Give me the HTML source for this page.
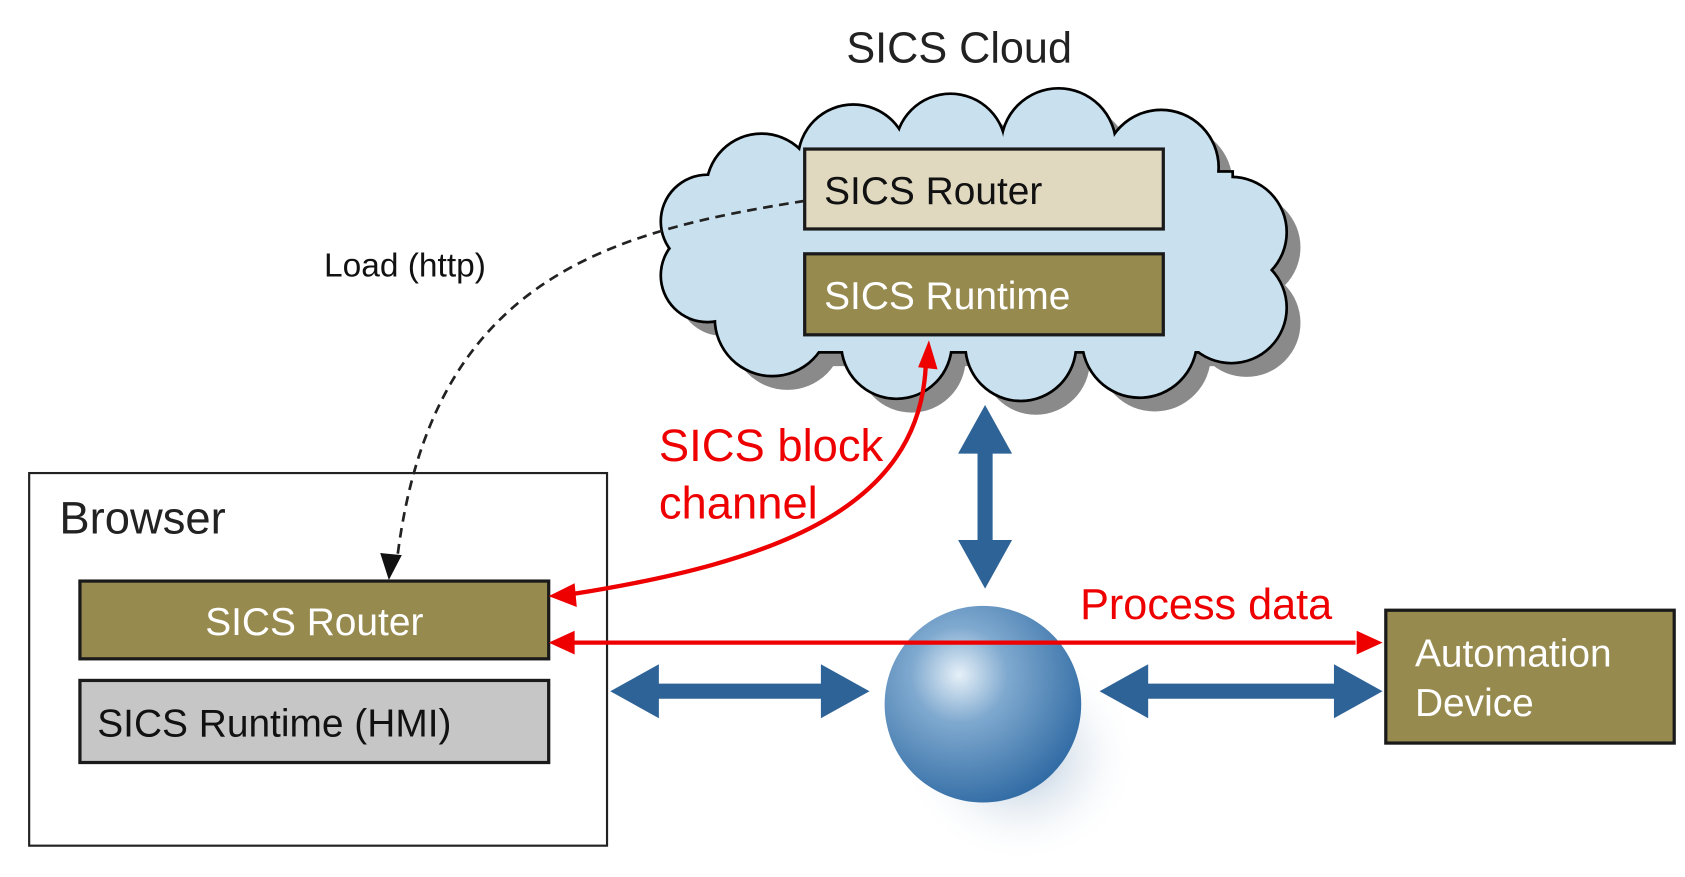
<!DOCTYPE html>
<html><head><meta charset="utf-8"><style>
html,body{margin:0;padding:0;background:#fff;}
svg{display:block;}
text{font-family:"Liberation Sans",sans-serif;}
</style></head><body>
<svg width="1685" height="877" viewBox="0 0 1560 812" preserveAspectRatio="none" xmlns="http://www.w3.org/2000/svg">
<defs>
<radialGradient id="g" cx="0.38" cy="0.35" r="0.7">
<stop offset="0" stop-color="#e6f0f8"/>
<stop offset="0.35" stop-color="#7fa9cf"/>
<stop offset="1" stop-color="#2f6aa3"/>
</radialGradient>
<radialGradient id="sh" cx="0.5" cy="0.5" r="0.5">
<stop offset="0" stop-color="#6f93b8" stop-opacity="0.6"/>
<stop offset="1" stop-color="#ffffff" stop-opacity="0"/>
</radialGradient>
<g id="cl">
<circle cx="705" cy="175" r="50"/><circle cx="790" cy="148" r="50"/><circle cx="880" cy="138" r="50"/>
<circle cx="980" cy="135" r="52"/><circle cx="1075" cy="155" r="52"/><circle cx="1140" cy="215" r="50"/>
<circle cx="1140" cy="285" r="50"/><circle cx="1055" cy="315" r="52"/><circle cx="945" cy="320" r="50"/>
<circle cx="830" cy="318" r="50"/><circle cx="715" cy="295" r="52"/><circle cx="655" cy="255" r="42"/>
<circle cx="655" cy="205" r="42"/>
<rect x="680" y="160" width="460" height="165"/>
</g>
</defs>
<text x="888" y="58" font-size="40" text-anchor="middle" fill="#222">SICS Cloud</text>
<use href="#cl" fill="#8a8a8a" transform="translate(14,14)"/>
<use href="#cl" fill="#000" stroke="#000" stroke-width="5"/>
<use href="#cl" fill="#c9e1ee"/>
<rect x="745" y="138" width="332" height="74" fill="#e0d9c0" stroke="#1a1a1a" stroke-width="3"/>
<text x="763" y="189" font-size="36" fill="#111">SICS  Router</text>
<rect x="745" y="235" width="332" height="75" fill="#978a4f" stroke="#1a1a1a" stroke-width="3"/>
<text x="763" y="286" font-size="36" fill="#fff">SICS Runtime</text>

<rect x="27" y="438" width="535" height="345" fill="#fff" stroke="#222" stroke-width="2"/>
<text x="55" y="494" font-size="42" fill="#222">Browser</text>
<rect x="74" y="538" width="434" height="72" fill="#978a4f" stroke="#1a1a1a" stroke-width="3"/>
<text x="291" y="588" font-size="36" fill="#fff" text-anchor="middle">SICS Router</text>
<rect x="74" y="630" width="434" height="76" fill="#c6c6c6" stroke="#1a1a1a" stroke-width="3"/>
<text x="90" y="682" font-size="36" fill="#111">SICS  Runtime (HMI)</text>
<rect x="1283" y="565" width="267" height="123" fill="#978a4f" stroke="#1a1a1a" stroke-width="3"/>
<text x="1310" y="617" font-size="36" fill="#fff">Automation</text>
<text x="1310" y="663" font-size="36" fill="#fff">Device</text>

<ellipse cx="945" cy="700" rx="110" ry="100" fill="url(#sh)"/>
<circle cx="910" cy="652" r="91" fill="url(#g)"/>

<g fill="#2e6397">
<polygon points="912,375 937,420 919,420 919,500 937,500 912,545 887,500 905,500 905,420 887,420"/>
<polygon points="565,640 610,615 610,633 760,633 760,615 805,640 760,665 760,647 610,647 610,665"/>
<polygon points="1018,640 1063,615 1063,633 1235,633 1235,615 1280,640 1235,665 1235,647 1063,647 1063,665"/>
</g>

<g stroke="#e00" stroke-width="4" fill="none">
<path d="M530,550 C720,520 850,470 857,340"/>
<line x1="530" y1="595" x2="1255" y2="595"/>
</g>
<g fill="#e00">
<polygon points="860,315 868,342 850,340"/>
<polygon points="508,552 532,540 534,562"/>
<polygon points="508,595 532,584 532,606"/>
<polygon points="1280,595 1256,584 1256,606"/>
</g>
<text x="610" y="427" font-size="42" fill="#e00">SICS block</text>
<text x="610" y="480" font-size="42" fill="#e00">channel</text>
<text x="1000" y="573" font-size="40" fill="#e00">Process data</text>

<path d="M745,186 C560,215 400,260 368,515" stroke="#222" stroke-width="2.5" stroke-dasharray="9,6" fill="none"/>
<polygon points="360,537 352,512 372,514" fill="#111"/>
<text x="300" y="256" font-size="31" fill="#111">Load (http)</text>
</svg>
</body></html>
